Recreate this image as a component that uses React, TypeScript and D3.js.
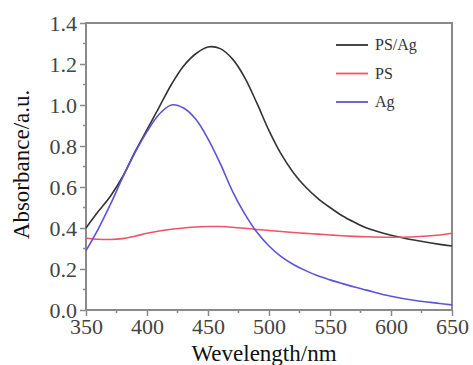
import React, { useEffect, useRef } from 'react';
import * as d3 from 'd3';

// wavelengths (nm) shared by all three spectra
const wavelengths = [350, 360, 370, 380, 390, 400, 410, 420, 430, 440, 450, 460, 470, 480, 490, 500, 510, 520, 530, 540, 550, 560, 570, 580, 600, 620, 640, 650];

const psAg = [0.40, 0.48, 0.555, 0.65, 0.77, 0.88, 0.99, 1.10, 1.19, 1.25, 1.283, 1.275, 1.225, 1.135, 1.01, 0.875, 0.76, 0.67, 0.60, 0.545, 0.50, 0.46, 0.428, 0.40, 0.365, 0.34, 0.32, 0.312];
const ps = [0.35, 0.345, 0.344, 0.348, 0.36, 0.374, 0.385, 0.394, 0.40, 0.405, 0.407, 0.407, 0.404, 0.399, 0.393, 0.388, 0.383, 0.378, 0.374, 0.37, 0.366, 0.362, 0.359, 0.357, 0.355, 0.357, 0.366, 0.374];
const ag = [0.29, 0.395, 0.515, 0.645, 0.765, 0.87, 0.955, 1.0, 0.985, 0.93, 0.835, 0.715, 0.58, 0.47, 0.38, 0.312, 0.26, 0.222, 0.192, 0.167, 0.147, 0.129, 0.112, 0.097, 0.067, 0.046, 0.032, 0.025];

const seriesNames = ['PS/Ag', 'PS', 'Ag'];
const seriesColors = ['#333333', '#ec5566', '#5a55d6'];
const xTicks = [350, 400, 450, 500, 550, 600, 650];
const yTicks = [0.0, 0.2, 0.4, 0.6, 0.8, 1.0, 1.2, 1.4];

const App = () => {
  const svgRef = useRef<SVGSVGElement>(null);

  useEffect(() => {
    const svg = d3.select(svgRef.current);
    svg.selectAll('*').remove();

    const margin = { top: 23, right: 21, bottom: 55, left: 86 };
    const width = 473 - margin.left - margin.right;
    const height = 365 - margin.top - margin.bottom;

    const g = svg.append('g').attr('transform', `translate(${margin.left}, ${margin.top})`);

    const x = d3.scaleLinear().domain([350, 650]).range([0, width]);
    const y = d3.scaleLinear().domain([0, 1.4]).range([height, 0]);

    const font = "'Liberation Serif', 'Times New Roman', Tinos, 'Noto Serif', 'DejaVu Serif', FreeSerif, Times, serif";
    const axisColor = '#8a8a8a';

    // frame
    g.append('rect')
      .attr('width', width).attr('height', height)
      .attr('fill', 'none').attr('stroke', axisColor).attr('stroke-width', 2);

    // x axis ticks
    const xAxis = g.append('g').attr('transform', `translate(0, ${height})`)
      .call(d3.axisBottom(x).tickValues(xTicks).tickSize(6).tickPadding(2).tickFormat(d3.format('d')));
    xAxis.attr('font-family', null);
    xAxis.select('.domain').remove();
    xAxis.selectAll('line').attr('stroke', axisColor).attr('stroke-width', 1.5);
    xAxis.selectAll('text').style('font-family', font).style('font-size', '22px').attr('fill', '#444');
    g.append('g').attr('transform', `translate(0, ${height})`)
      .selectAll('line').data(d3.range(375, 650, 50)).enter().append('line')
      .attr('x1', d => x(d)).attr('x2', d => x(d)).attr('y1', 0).attr('y2', 3)
      .attr('stroke', axisColor).attr('stroke-width', 1.5);

    // y axis ticks
    const yAxis = g.append('g')
      .call(d3.axisLeft(y).tickValues(yTicks).tickSize(6).tickPadding(3).tickFormat(d3.format('.1f')));
    yAxis.attr('font-family', null);
    yAxis.select('.domain').remove();
    yAxis.selectAll('line').attr('stroke', axisColor).attr('stroke-width', 1.5);
    yAxis.selectAll('text').style('font-family', font).style('font-size', '22px').attr('fill', '#444');
    g.append('g')
      .selectAll('line').data(d3.range(0.1, 1.4, 0.2)).enter().append('line')
      .attr('x1', -3).attr('x2', 0).attr('y1', d => y(d)).attr('y2', d => y(d))
      .attr('stroke', axisColor).attr('stroke-width', 1.5);

    // curves
    const line = d3.line<number>()
      .x((_, i) => x(wavelengths[i]))
      .y(d => y(d))
      .curve(d3.curveCatmullRom.alpha(0.5));

    [psAg, ps, ag].forEach((vals, i) => {
      g.append('path')
        .datum(vals)
        .attr('d', line)
        .attr('fill', 'none')
        .attr('stroke', seriesColors[i])
        .attr('stroke-width', 1.6);
    });

    // legend
    const legend = g.append('g').attr('transform', `translate(${250}, ${22})`);
    seriesNames.forEach((name, i) => {
      const row = legend.append('g').attr('transform', `translate(0, ${i * 28.5})`);
      row.append('line').attr('x1', 0).attr('x2', 32).attr('y1', 0).attr('y2', 0)
        .attr('stroke', seriesColors[i]).attr('stroke-width', 1.8);
      row.append('text').attr('x', 39).attr('y', 5)
        .style('font-family', font).style('font-size', '16px').attr('fill', '#333')
        .text(name);
    });

    // axis labels
    g.append('text')
      .attr('x', width / 2 - 5).attr('y', height + 51)
      .attr('text-anchor', 'middle')
      .style('font-family', font).style('font-size', '23px').attr('fill', '#111')
      .text('Wevelength/nm');

    g.append('text')
      .attr('transform', 'rotate(-90)')
      .attr('x', -height / 2 + 2).attr('y', -margin.left + 29)
      .attr('text-anchor', 'middle')
      .style('font-family', font).style('font-size', '23px').attr('fill', '#111')
      .text('Absorbance/a.u.');
  }, []);

  return (
    <svg ref={svgRef} width={473} height={365}
      style={{ position: 'absolute', left: 0, top: 0, background: '#fff' }} />
  );
};

export default App;
